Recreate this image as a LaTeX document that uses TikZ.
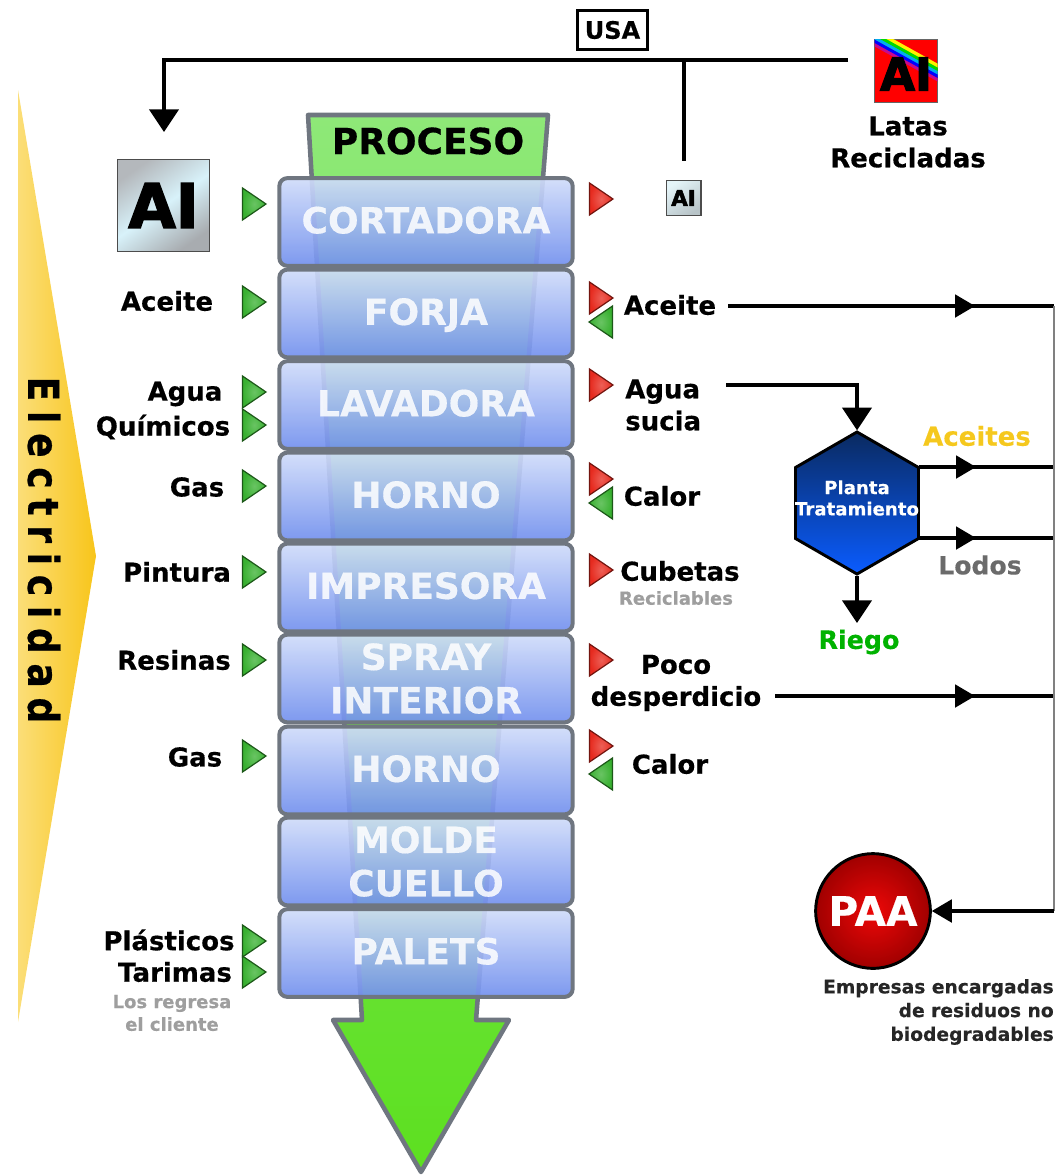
\documentclass[tikz,border=0pt]{standalone}
\usepackage{graphicx}
\usepackage{fontspec}
\setmainfont[BoldFeatures={FakeBold=0.4}]{DejaVu Sans}
\newfontfamily\spaced[LetterSpace=27,FakeBold=0.6]{DejaVu Sans Bold}
\newfontfamily\heavy[FakeBold=2.5]{DejaVu Sans Bold}
\usetikzlibrary{arrows.meta,shapes.geometric}
\definecolor{stk}{HTML}{6F7680}
\definecolor{BT}{HTML}{D0DCF9}
\definecolor{BB}{HTML}{7290EE}
\definecolor{gT}{HTML}{38B030}
\definecolor{rT}{HTML}{E62A1E}
\definecolor{wedgeL}{HTML}{FBDE78}
\definecolor{wedgeR}{HTML}{F8C51A}
\definecolor{procT}{HTML}{8EE878}
\definecolor{procB}{HTML}{5DE020}
\definecolor{silvL}{HTML}{B4B8BC}
\definecolor{silvM}{HTML}{D8F2FA}
\definecolor{silvR}{HTML}{A8ACB0}
\definecolor{silvsL}{HTML}{E4F4F8}
\definecolor{silvsR}{HTML}{B8C4C8}
\definecolor{hexT}{HTML}{0A2A60}
\definecolor{hexB}{HTML}{0A5CFF}
\definecolor{acsC}{HTML}{F5C81E}
\definecolor{paaI}{HTML}{EE0808}
\definecolor{paaO}{HTML}{A00000}
\newcommand{\pxf}[1]{\fontsize{#1}{#1}\selectfont\bfseries}
\tikzset{
  lbl/.style={font=\pxf{19.5},inner sep=0pt,text=black,align=center},
  lblb/.style={font=\fontsize{19.5}{24}\selectfont\bfseries,inner sep=0pt,text=black},
  note/.style={font=\fontsize{13.5}{17}\selectfont\bfseries,inner sep=0pt,text=#1},
  block/.style={draw=stk,line width=3pt,rounded corners=6pt,minimum width=220pt,minimum height=65.8pt,
    top color=BT,bottom color=BB,fill opacity=.92,draw opacity=1,text opacity=.85,text=white,inner sep=0pt,
    align=center,font=\fontsize{27}{32.5}\selectfont\bfseries},
  single/.style={text depth=3pt,text height=20pt},
  conn/.style={draw=black,line width=2.3pt},
  cont/.style={draw=black,line width=2.3pt,shorten <=-8pt},
  headd/.style={-{Triangle[width=22pt,length=17pt]}},
  headh/.style={-{Triangle[width=17pt,length=15pt]}},
  gtri/.pic={\draw[draw=#1!50!black,line width=.9pt,inner color=#1!75!white,outer color=#1,line join=miter] (-11.5,-16)--(12,0)--(-11.5,16)--cycle;},
  ltri/.pic={\draw[draw=#1!50!black,line width=.9pt,inner color=#1!75!white,outer color=#1,line join=miter] (11.5,-16)--(-12,0)--(11.5,16)--cycle;},
}
\begin{document}
\begin{tikzpicture}[x=.75pt,y=-.75pt]
\useasboundingbox (0,0) rectangle (1055,1175);
% electricity wedge
\path[left color=wedgeL,right color=wedgeR] (18,90)--(96,556)--(18,1022)--cycle;
\node[rotate=-90,inner sep=0pt,font=\fontsize{27}{27}\selectfont\spaced] (elec) at (44,550) {\scalebox{1}[1.18]{Electricidad}};
% process column
\draw[draw=stk,line width=3.4pt,top color=procT,bottom color=procB,line join=round]
  (308,115)--(548,115)--(476,1020)--(509,1020)--(421,1172)--(333,1020)--(362,1020)--cycle;
\node[font=\pxf{27},inner sep=0pt] (proc) at (428,141) {PROCESO};
\node[block,single] (b1) at (426,222) {CORTADORA};
\node[block,single] (b2) at (426,313.5) {FORJA};
\node[block,single] (b3) at (426,405) {LAVADORA};
\node[block,single] (b4) at (426,496.5) {HORNO};
\node[block,single] (b5) at (426,587.5) {IMPRESORA};
\node[block] (b6) at (426,678.5) {SPRAY\\INTERIOR};
\node[block,single] (b7) at (426,770.5) {HORNO};
\node[block] (b8) at (426,861.5) {MOLDE\\CUELLO};
\node[block,single] (b9) at (426,953) {PALETS};
% aluminium icons
\node[draw=black!70,line width=1pt,minimum size=69pt,inner sep=0pt,left color=silvL,right color=silvR,middle color=silvM,shading angle=35,font=\fontsize{46}{46}\selectfont\heavy] (alu) at (163.5,205.5) {AI};
\node[draw=black!70,line width=1pt,minimum size=26pt,inner sep=0pt,left color=silvsL,right color=silvsR,shading angle=35,font=\fontsize{16}{16}\selectfont\heavy] (alus) at (683.5,198) {AI};
\node[draw=black!60,line width=1pt,minimum size=47.5pt,inner sep=0pt,fill=red] (lat) at (906,71) {};
\begin{scope}
\clip (874.5,39.5) rectangle (937.5,102.5);
\draw[line width=2.5pt,magenta!80!blue] (870,42)--(942,82);
\draw[line width=2.5pt,blue] (870,38.5)--(942,78.5);
\draw[line width=2.5pt,cyan] (870,35)--(942,75);
\draw[line width=2.5pt,green!85!black] (870,31.5)--(942,71.5);
\draw[line width=2.5pt,yellow] (870,28)--(942,68);
\end{scope}
\node[font=\fontsize{34}{34}\selectfont\heavy,inner sep=0pt] (latai) at (906,74) {AI};
\node[lblb,align=center] (latas) at (908,142) {Latas\\Recicladas};
% USA
\node[draw=black,line width=2.2pt,minimum width=52pt,minimum height=29pt,inner sep=0pt,font=\pxf{18}] (usa) at (612.5,30) {USA};
% Left labels
\node[lbl] (l1) at (167,301) {Aceite};
\node[lbl] (l2) at (185,394) {Agua};
\node[lbl] (l3) at (163,427) {Químicos};
\node[lbl] (l4) at (197,487) {Gas};
\node[lbl] (l5) at (177,572) {Pintura};
\node[lbl] (l6) at (174,660) {Resinas};
\node[lbl] (l7) at (195,757) {Gas};
\node[lbl] (l8) at (169,940) {Plásticos};
\node[lbl] (l9) at (175,972) {Tarimas};
\node[note=black!38,align=center] (l10) at (172,1013) {Los regresa\\el cliente};
% Right labels
\node[lbl] (r1) at (670,305) {Aceite};
\node[lblb,align=left,anchor=west] (r2) at (625,405) {Agua\\sucia};
\node[lbl] (r3) at (662,496) {Calor};
\node[lbl] (r4) at (680,571) {Cubetas};
\node[note=black!38] (r5) at (676,598) {Reciclables};
\node[lblb,align=center] (r6) at (676,683) {Poco\\desperdicio};
\node[lbl] (r7) at (670,764) {Calor};
% triangles
\foreach \n/\y in {a/204,b/302,c/392,d/425,e/486,f/572,g/660,h/756,i/941,j/972}
  \pic (gt\n) at (254,\y) {gtri=gT};
\foreach \n/\y in {a/199,b/298,c/385,d/479,e/570,f/660,g/746}
  \pic (rt\n) at (601,\y) {gtri=rT};
\foreach \n/\y in {a/322,b/503,c/774}
  \pic (lt\n) at (601,\y) {ltri=gT};
% plant
\node[regular polygon,regular polygon sides=6,shape border rotate=30,draw=black,line width=2.2pt,minimum size=106.5pt,inner sep=0pt,top color=hexT,bottom color=hexB] (hex) at (857,503) {};
\node[font=\fontsize{13.6}{16}\selectfont\bfseries,text=white,align=center,inner sep=0pt] (hext) at (857,498) {Planta\\Tratamiento};
\node[font=\pxf{19.5},text=acsC,inner sep=0pt] (acs) at (977,436) {Aceites};
\node[font=\pxf{18.8},text=black!58,inner sep=0pt] (lod) at (980,565) {Lodos};
\node[font=\pxf{19},text=green!70!black,inner sep=0pt] (rie) at (859,642) {Riego};
% PAA
\node[circle,draw=black,line width=2.2pt,minimum size=86pt,inner sep=0pt,inner color=paaI,outer color=paaO,text=white,font=\pxf{30.5}] (paa) at (873,911) {PAA};
\node[font=\fontsize{14}{17.8}\selectfont\bfseries,text=black!85,align=right,inner sep=0pt,anchor=east] (emp) at (1054,1012) {Empresas encargadas\\de residuos no\\biodegradables};
% coordinates
\coordinate (c0) at (848,60);
\coordinate (c1) at (164,60);
\coordinate (c2) at (164,132);
\coordinate (c3) at (684,60);
\coordinate (c4) at (684,161);
\coordinate (s1) at (728,306);
\coordinate (m1) at (975,306);
\coordinate (e1) at (1054,306);
\coordinate (s2) at (726,385);
\coordinate (m2) at (857,385);
\coordinate (m3) at (976,467);
\coordinate (e3) at (1054,467);
\coordinate (m4) at (976,538);
\coordinate (e4) at (1054,538);
\coordinate (s5) at (775,696);
\coordinate (m5) at (975,696);
\coordinate (e5) at (1054,696);
\coordinate (e6) at (1054,911);
\coordinate (h1) at (919,467);
\coordinate (h2) at (919,538);
\coordinate (m6) at (857,623);
% connectors
\draw[conn,headd] (c0)--(c1)--(c2);
\draw[conn] (c3)--(c4);
\draw[conn,headh] (s1)--(m1);
\draw[cont] (m1)--(e1);
\draw[conn,headd] (s2)--(m2)--(hex.north);
\draw[conn,headh] (h1)--(m3);
\draw[cont] (m3)--(e3);
\draw[conn,headh] (h2)--(m4);
\draw[cont] (m4)--(e4);
\draw[conn,headd] (hex.south)--(m6);
\draw[conn,headh] (s5)--(m5);
\draw[cont] (m5)--(e5);
\draw[draw=black!50,line width=1.2pt] (e1)--(e6);
\draw[conn,headh] (e6)--(paa.east);
\end{tikzpicture}
\end{document}
